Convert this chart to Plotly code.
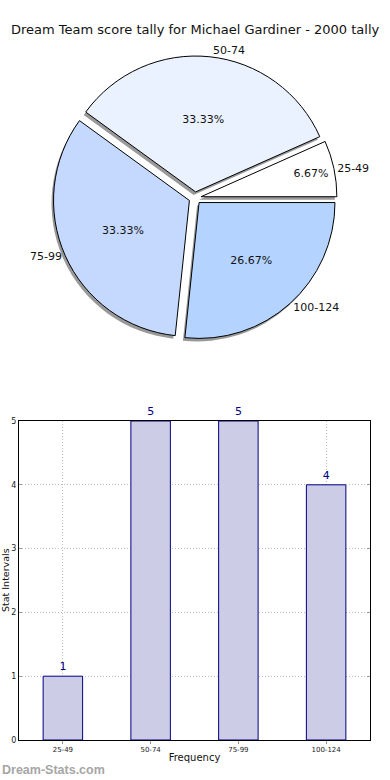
import plotly.graph_objects as go

# ---- data ----
categories = ["25-49", "50-74", "75-99", "100-124"]
counts = [1, 5, 5, 4]
pie_colors = ["#ffffff", "#eaf1ff", "#c5d9ff", "#b4d4ff"]
bar_fill = "#ccccE6"
bar_line = "#000080"
y_ticks = [0, 1, 2, 3, 4, 5]

W, H = 390, 780
FONT = "DejaVu Sans"

# pie geometry (paper fractions)
cx, cy, half = 195, 198, 142
px0, px1 = (cx - half) / W, (cx + half) / W
py0, py1 = (H - cy - half) / H, (H - cy + half) / H
sdx, sdy = -2, 3  # shadow offset in px
pull = [0.045] * 4
# plotly's counterclockwise pies end the first slice at `rotation`;
# make the first slice start at 3 o'clock as in the reference
rot = 90 - 360 * counts[0] / sum(counts)

fig = go.Figure()

common = dict(labels=categories, values=counts, sort=False,
              direction="counterclockwise", rotation=rot, pull=pull,
              showlegend=False, automargin=False)

# shadow
fig.add_trace(go.Pie(
    **common, textinfo="none", hoverinfo="skip",
    marker=dict(colors=["rgba(110,110,110,0.7)"] * 4, line=dict(width=0)),
    domain=dict(x=[px0 + sdx / W, px1 + sdx / W], y=[py0 - sdy / H, py1 - sdy / H]),
))
# main pie with percentages
fig.add_trace(go.Pie(
    **common, textposition="inside", insidetextorientation="horizontal",
    texttemplate="%{percent:.2%}", textfont=dict(family=FONT, size=11, color="#111"),
    marker=dict(colors=pie_colors, line=dict(color="#000", width=1)),
    domain=dict(x=[px0, px1], y=[py0, py1]),
))
# outside labels
fig.add_trace(go.Pie(
    **common, textposition="outside", texttemplate="%{label}",
    textfont=dict(family=FONT, size=11, color="#111"), hoverinfo="skip",
    marker=dict(colors=["rgba(0,0,0,0)"] * 4, line=dict(width=0)),
    domain=dict(x=[px0, px1], y=[py0, py1]),
))

# bar chart
fig.add_trace(go.Bar(
    x=categories, y=counts, width=0.45,
    marker=dict(color=bar_fill, line=dict(color=bar_line, width=1)),
    text=[str(c) for c in counts], textposition="outside",
    textfont=dict(family=FONT, size=11, color=bar_line), cliponaxis=False,
    showlegend=False, xaxis="x", yaxis="y",
))

grid = dict(showgrid=True, gridcolor="#bdbdbd", griddash="1px,2px", gridwidth=1)

fig.update_layout(
    width=W, height=H, margin=dict(l=0, r=0, t=0, b=0, autoexpand=False),
    paper_bgcolor="white", plot_bgcolor="white",
    font=dict(family=FONT, color="#111"),
    xaxis=dict(domain=[19 / W, 370 / W], range=[-0.5, 3.5], type="category",
               showline=True, mirror=True, linecolor="#000", linewidth=1, **grid,
               ticks="outside", ticklen=3, tickcolor="#999",
               tickfont=dict(family=FONT, size=7, color="#222"),
               title=dict(text="Frequency", font=dict(family=FONT, size=10), standoff=0),
               anchor="y", fixedrange=True, automargin=False),
    yaxis=dict(domain=[(H - 740) / H, (H - 421) / H], range=[0, 5],
               tickvals=y_ticks,
               showline=True, mirror="ticks", linecolor="#000", linewidth=1, **grid,
               zeroline=False,
               ticks="inside", ticklen=3, tickcolor="#999",
               tickfont=dict(family=FONT, size=8, color="#222"),
               anchor="x", fixedrange=True, automargin=False),
    annotations=[
        dict(text="Dream Team score tally for Michael Gardiner - 2000 tally",
             x=0.5, y=1 - 30 / H, xref="paper", yref="paper",
             xanchor="center", yanchor="middle", showarrow=False,
             font=dict(family=FONT, size=13, color="#111")),
        dict(text="Stat Intervals", x=5 / W, y=(H - 580) / H, xref="paper", yref="paper",
             xanchor="center", yanchor="middle", showarrow=False, textangle=-90,
             font=dict(family=FONT, size=9.5, color="#111")),
        dict(text="<b>Dream-Stats.com</b>", x=0, y=(H - 770) / H, xref="paper", yref="paper",
             xanchor="left", yanchor="middle", showarrow=False,
             font=dict(family="Liberation Sans", size=12.5, color="#a6a6a6")),
    ],
)

fig.write_html("out.html", config={"displayModeBar": False},
               post_script="document.body.style.margin='0px';document.body.style.overflow='hidden';")
